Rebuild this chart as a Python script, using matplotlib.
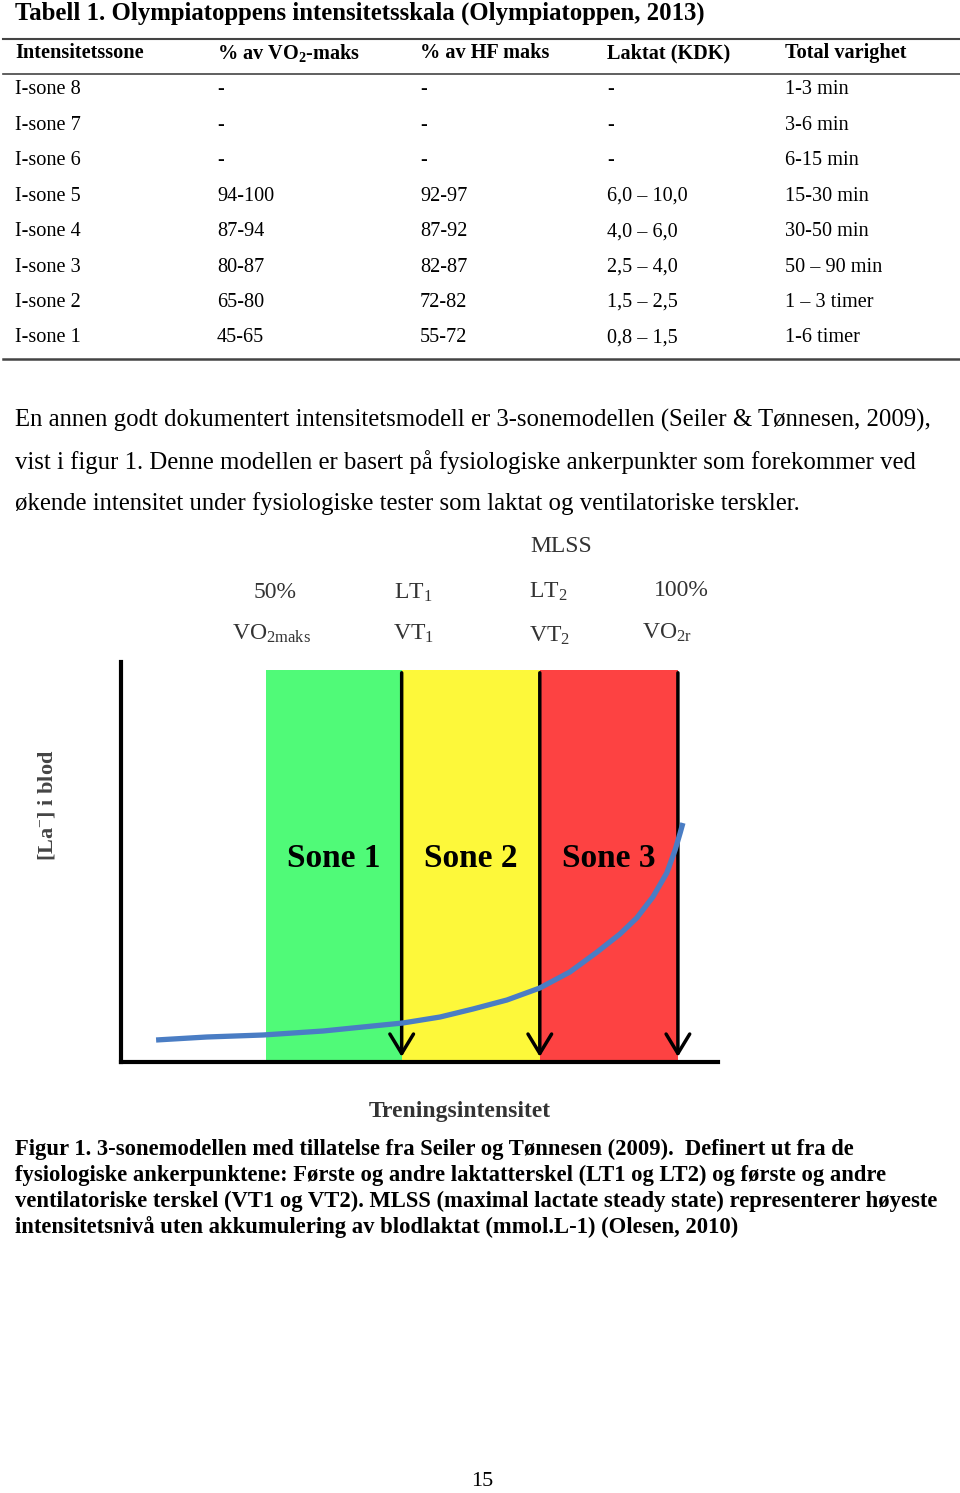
import matplotlib
matplotlib.use("Agg")
import matplotlib.pyplot as plt

plt.rcParams['font.family'] = ['Liberation Serif', 'DejaVu Serif']
plt.rcParams['mathtext.fontset'] = 'custom'
plt.rcParams['mathtext.rm'] = 'Liberation Serif'
plt.rcParams['mathtext.bf'] = 'Liberation Serif:bold'
plt.rcParams['mathtext.it'] = 'Liberation Serif:italic'

# ---- table data ----
title = "Tabell 1. Olympiatoppens intensitetsskala (Olympiatoppen, 2013)"
headers = ["Intensitetssone", r"% av VO$_\mathbf{2}$-maks", "% av HF maks", "Laktat (KDK)", "Total varighet"]
zones = ["I-sone 8", "I-sone 7", "I-sone 6", "I-sone 5", "I-sone 4", "I-sone 3", "I-sone 2", "I-sone 1"]
vo2 = ["-", "-", "-", "94-100", "87-94", "80-87", "65-80", "45-65"]
hf = ["-", "-", "-", "92-97", "87-92", "82-87", "72-82", "55-72"]
laktat = ["-", "-", "-", "6,0 – 10,0", "4,0 – 6,0", "2,5 – 4,0", "1,5 – 2,5", "0,8 – 1,5"]
varighet = ["1-3 min", "3-6 min", "6-15 min", "15-30 min", "30-50 min", "50 – 90 min", "1 – 3 timer", "1-6 timer"]

paragraph = [
    "En annen godt dokumentert intensitetsmodell er 3-sonemodellen (Seiler & Tønnesen, 2009),",
    "vist i figur 1. Denne modellen er basert på fysiologiske ankerpunkter som forekommer ved",
    "økende intensitet under fysiologiske tester som laktat og ventilatoriske terskler.",
]
caption = [
    "Figur 1. 3-sonemodellen med tillatelse fra Seiler og Tønnesen (2009).  Definert ut fra de",
    "fysiologiske ankerpunktene: Første og andre laktatterskel (LT1 og LT2) og første og andre",
    "ventilatoriske terskel (VT1 og VT2). MLSS (maximal lactate steady state) representerer høyeste",
    "intensitetsnivå uten akkumulering av blodlaktat (mmol.L-1) (Olesen, 2010)",
]

# ---- figure data (schematic, intensity 0-100, lactate 0-100) ----
zone_names = ["Sone 1", "Sone 2", "Sone 3"]
zone_edges = [26.0, 50.4, 75.2, 100.0]
zone_top = 98
curve_x = [6.3, 15.4, 25.5, 36.3, 45.2, 50.6, 57.3, 63.2, 69.3, 75.2, 80.6, 85.5,
           89.6, 92.6, 95.5, 98.0, 99.5, 100.4, 100.9]
curve_y = [5.5, 6.25, 6.75, 7.75, 9.0, 9.75, 11.25, 13.25, 15.5, 18.5, 22.5, 27.5,
           32.0, 36.0, 41.25, 47.25, 53.0, 57.25, 59.75]

fig = plt.figure(figsize=(9.6, 14.93), dpi=100)
bg = fig.add_axes([0, 0, 1, 1])
bg.set_xlim(0, 960)
bg.set_ylim(1493, 0)
bg.axis('off')

# title + table
bg.text(15, 13, title, fontsize=17.8, fontweight='bold', va='center')
rule = '#444444'
bg.plot([3, 960], [39, 39], color=rule, lw=1.5)
bg.plot([3, 960], [74, 74], color=rule, lw=1.2)
bg.plot([3, 960], [359, 359], color=rule, lw=1.8)

col_x = [15, 217, 420, 607, 785]
for x, h in zip(col_x, headers):
    bg.text(x, 53, h, fontsize=14.6, fontweight='bold', va='center')
for i, row in enumerate(zip(zones, vo2, hf, laktat, varighet)):
    y = 90 + i * 35.4
    for x, cell in zip(col_x, row):
        bg.text(x, y, cell, fontsize=14.6, va='center')

for i, line in enumerate(paragraph):
    bg.text(15, 420 + i * 42, line, fontsize=17.8, va='center')

# labels above the diagram
lab = '#333333'
top_labels = [
    (561, 547, "MLSS"),
    (275, 593, "50%"), (413, 593, r"LT$_1$"), (548, 592, r"LT$_2$"), (681, 591, "100%"),
    (271, 634, r"VO$_{\mathrm{2maks}}$"), (413, 634, r"VT$_1$"), (550, 636, r"VT$_2$"), (667, 633, r"VO$_{\mathrm{2r}}$"),
]
for x, y, s in top_labels:
    bg.text(x, y, s, fontsize=17, color=lab, ha='center', va='center')

bg.text(47, 805, r"[La$^{-}$] i blod", fontsize=16, fontweight='bold', color='#444444',
        rotation=90, ha='center', va='center')
bg.text(460, 1111, "Treningsintensitet", fontsize=17, fontweight='bold', color='#333333',
        ha='center', va='center')

for i, line in enumerate(caption):
    bg.text(15, 1149 + i * 26, line, fontsize=16.3, fontweight='bold', va='center')

bg.text(482, 1481, "15", fontsize=16, ha='center', va='center')

# ---- diagram ----
ax = fig.add_axes([121 / 960, 1 - 1062 / 1493, (718 - 121) / 960, (1062 - 662) / 1493])
ax.set_xlim(0, 107.2)
ax.set_ylim(0, 100)
ax.set_facecolor('none')
for s in ['top', 'right']:
    ax.spines[s].set_visible(False)
for s in ['left', 'bottom']:
    ax.spines[s].set_linewidth(3)
    ax.spines[s].set_capstyle('projecting')
ax.set_xticks([])
ax.set_yticks([])

zone_colors = ['#50fa78', '#fdf83a', '#fd4242']
lefts = zone_edges[:-1]
widths = [b - a for a, b in zip(zone_edges[:-1], zone_edges[1:])]
ax.bar(lefts, [zone_top] * 3, width=widths, align='edge', color=zone_colors, zorder=1)

for x0, w, name in zip(lefts, widths, zone_names):
    ax.text(x0 + w / 2, 50.8, name, fontsize=24, fontweight='bold', ha='center', va='center', zorder=4)

for x in zone_edges[1:]:
    ax.annotate('', xy=(x, 0.6), xytext=(x, zone_top),
                arrowprops=dict(arrowstyle='->,head_length=1.4,head_width=0.85', lw=2.5, color='black'),
                zorder=2)

ax.plot(curve_x, curve_y, color='#4a7dc4', lw=3.8, solid_capstyle='butt',
        solid_joinstyle='round', zorder=3)

fig.savefig('out.png', dpi=100)
